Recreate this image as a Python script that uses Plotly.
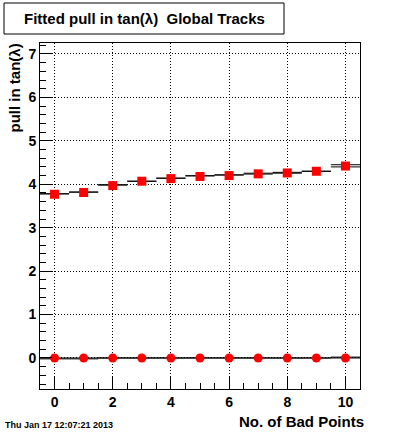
import plotly.graph_objects as go

bad_points = [0, 1, 2, 3, 4, 5, 6, 7, 8, 9, 10]
pull_mean = [3.77, 3.81, 3.97, 4.07, 4.13, 4.18, 4.20, 4.24, 4.26, 4.30, 4.42]
pull_center = [0.0, 0.0, 0.0, 0.0, 0.0, 0.0, 0.0, 0.0, 0.0, 0.0, 0.0]
fit_mean = [3.78, 3.82, 3.985, 4.07, 4.14, 4.195, 4.215, 4.245, 4.265, 4.30, 4.425]
fit_mean_err = [0.0, 0.0, 0.005, 0.0, 0.0, 0.0, 0.0, 0.01, 0.01, 0.0, 0.025]
fit_center = [-0.01, -0.01, 0.0, 0.0, 0.0, 0.0, 0.0, 0.0, 0.0, 0.0, 0.01]
fit_center_err = [0.01, 0.01, 0.0, 0.0, 0.0, 0.0, 0.0, 0.0, 0.0, 0.0, 0.01]

FONT = "Liberation Sans"
W, H = 400, 433
L, R, T, B = 40, 360, 43, 389

def px(x):
    return (x - L) / (R - L)

def py(y):
    return (B - y) / (B - T)

fig = go.Figure()

for vals, errs in ((fit_mean, fit_mean_err), (fit_center, fit_center_err)):
    fig.add_trace(go.Scatter(
        x=bad_points, y=vals, mode="markers",
        marker=dict(size=1, color="rgba(0,0,0,0)"),
        error_y=dict(type="data", array=errs, visible=True, color="black",
                     thickness=1, width=14.6),
        hoverinfo="skip", showlegend=False,
    ))

fig.add_trace(go.Scatter(
    x=bad_points, y=pull_mean, mode="markers",
    marker=dict(symbol="square", size=9, color="#ff0000", line=dict(width=0)),
    showlegend=False,
))
fig.add_trace(go.Scatter(
    x=bad_points, y=pull_center, mode="markers",
    marker=dict(symbol="circle", size=9, color="#ff0000", line=dict(width=0)),
    showlegend=False,
))

axis_common = dict(
    showline=True, linecolor="black", linewidth=1, mirror=True,
    ticks="inside", tickcolor="black", tickwidth=1,
    showgrid=True, gridcolor="black", griddash="1px,2px", gridwidth=1,
    zeroline=False,
    tickfont=dict(family=FONT, size=14, color="black", weight="bold"),
)

fig.update_xaxes(
    range=[-0.5, 10.5], tickmode="linear", tick0=0, dtick=2, ticklen=12,
    minor=dict(ticks="inside", ticklen=6, dtick=0.5, tick0=0, tickcolor="black", showgrid=False),
    **axis_common,
)
fig.update_yaxes(
    range=[-0.714, 7.253], tickmode="linear", tick0=0, dtick=1, ticklen=12,
    minor=dict(ticks="inside", ticklen=6, dtick=0.2, tick0=0, tickcolor="black", showgrid=False),
    **axis_common,
)

fig.add_shape(type="rect", xref="paper", yref="paper",
              x0=px(4), x1=px(284), y0=py(34), y1=py(3),
              line=dict(color="black", width=1), fillcolor="white")

fig.add_annotation(text="Fitted pull in tan(λ)  Global Tracks", xref="paper", yref="paper",
                   x=px(144), y=py(18.5), xanchor="center", yanchor="middle", showarrow=False,
                   font=dict(family=FONT, size=15, color="black", weight="bold"))
fig.add_annotation(text="pull in tan(λ)", xref="paper", yref="paper", textangle=-90,
                   x=px(14), y=py(42), xanchor="center", yanchor="top", showarrow=False,
                   font=dict(family=FONT, size=15, color="black", weight="bold"))
fig.add_annotation(text="No. of Bad Points", xref="paper", yref="paper",
                   x=px(366), y=py(421), xanchor="right", yanchor="middle", showarrow=False,
                   font=dict(family=FONT, size=15, color="black", weight="bold"))
fig.add_annotation(text="Thu Jan 17 12:07:21 2013", xref="paper", yref="paper",
                   x=px(3), y=py(425), xanchor="left", yanchor="middle", showarrow=False,
                   font=dict(family=FONT, size=9, color="black", weight="bold"))

fig.update_layout(
    width=W, height=H,
    margin=dict(l=L, r=W - R, t=T, b=H - B, pad=0),
    paper_bgcolor="white", plot_bgcolor="white",
    showlegend=False,
)

fig.write_html("out.html", config={"displayModeBar": False},
               post_script="document.body.style.margin='0px';document.body.style.overflow='hidden';")
